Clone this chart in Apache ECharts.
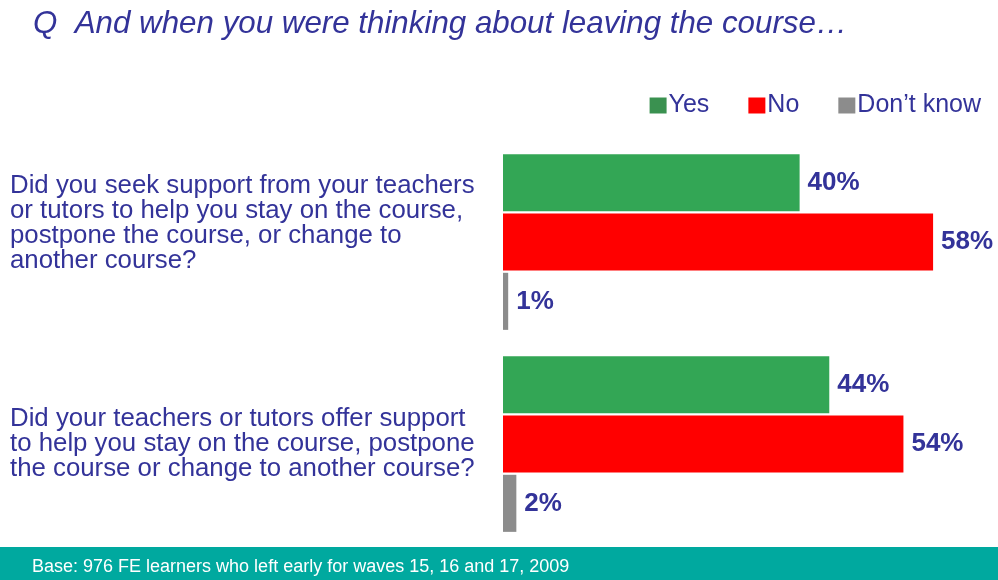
<!DOCTYPE html>
<html>
<head>
<meta charset="utf-8">
<script src="https://cdn.jsdelivr.net/npm/echarts@6/dist/echarts.min.js"></script>
<style>
	html, body { margin: 0; padding: 0; background: #fff; }
	#main { width: 998px; height: 580px; }
</style>
</head>
<body>
<div id="main"></div>
<script>
// 问题 / categories
var questions = [
	'Did you seek support from your teachers\nor tutors to help you stay on the course,\npostpone the course, or change to\nanother course?',
	'Did your teachers or tutors offer support\nto help you stay on the course, postpone\nthe course or change to another course?'
];
var seriesNames = [ 'Yes', 'No', 'Don\u2019t know' ];
var yesValues = [ 40, 44 ];
var noValues = [ 58, 54 ];
var dontKnowValues = [ 0.7, 1.8 ];

var textColor = '#333399';
var font = '"Liberation Sans", Arial, sans-serif';

var myChart = echarts.init(document.getElementById('main'));

function pctLabel(p) {
	return Math.round(p.value) + '%';
}

var labelStyle = {
	show : true,
	position : 'right',
	distance : 8,
	formatter : pctLabel,
	color : textColor,
	fontWeight : 'bold',
	fontSize : 26,
	fontFamily : font
};

var option = {
	animation : false,
	backgroundColor : '#fff',
	title : {
		text : 'Q  And when you were thinking about leaving the course\u2026',
		left : 28,
		top : 4,
		textStyle : {
			color : textColor,
			fontStyle : 'italic',
			fontWeight : 'normal',
			fontSize : 31.3,
			fontFamily : font
		}
	},
	legend : {
		right : 12,
		top : 88,
		itemWidth : 17,
		itemHeight : 16,
		itemGap : 39,
		icon : 'rect',
		textStyle : {
			color : textColor,
			fontSize : 25,
			fontFamily : font,
			padding : [ 0, 0, 0, -3 ]
		},
		data : [ {
			name : seriesNames[0],
			itemStyle : { color : '#3a9150' }
		}, {
			name : seriesNames[1]
		}, {
			name : seriesNames[2]
		} ]
	},
	grid : {
		left : 503,
		right : 13,
		top : 141,
		bottom : 35,
		containLabel : false
	},
	xAxis : {
		type : 'value',
		min : 0,
		max : 65,
		show : false
	},
	yAxis : {
		type : 'category',
		inverse : true,
		data : questions,
		axisLine : { show : false },
		axisTick : { show : false },
		splitLine : { show : false },
		axisLabel : {
			align : 'left',
			margin : 493,
			color : textColor,
			fontSize : 25.8,
			lineHeight : 25,
			fontFamily : font,
			formatter : function(value, index) {
				// 第一个标签向上偏移
				if (index === 0) {
					return value + '\n{gap| }';
				}
				return value;
			},
			rich : {
				gap : { lineHeight : 38, fontSize : 10 }
			}
		}
	},
	series : [ {
		name : seriesNames[0],
		type : 'bar',
		data : yesValues,
		barCategoryGap : '13%',
		barGap : '4%',
		itemStyle : { color : '#33a655' },
		label : labelStyle
	}, {
		name : seriesNames[1],
		type : 'bar',
		data : noValues,
		barCategoryGap : '13%',
		barGap : '4%',
		itemStyle : { color : '#ff0000' },
		label : labelStyle
	}, {
		name : seriesNames[2],
		type : 'bar',
		data : dontKnowValues,
		barCategoryGap : '13%',
		barGap : '4%',
		itemStyle : { color : '#8c8c8c' },
		label : labelStyle
	} ],
	graphic : [ {
		type : 'rect',
		left : 0,
		top : 547,
		shape : { width : 998, height : 33 },
		style : { fill : '#00a99f' },
		silent : true
	}, {
		type : 'text',
		left : 32,
		top : 558,
		style : {
			text : 'Base: 976 FE learners who left early for waves 15, 16 and 17, 2009',
			fill : '#fff',
			fontSize : 18,
			fontFamily : font
		},
		silent : true
	} ]
};

myChart.setOption(option);
</script>
</body>
</html>
